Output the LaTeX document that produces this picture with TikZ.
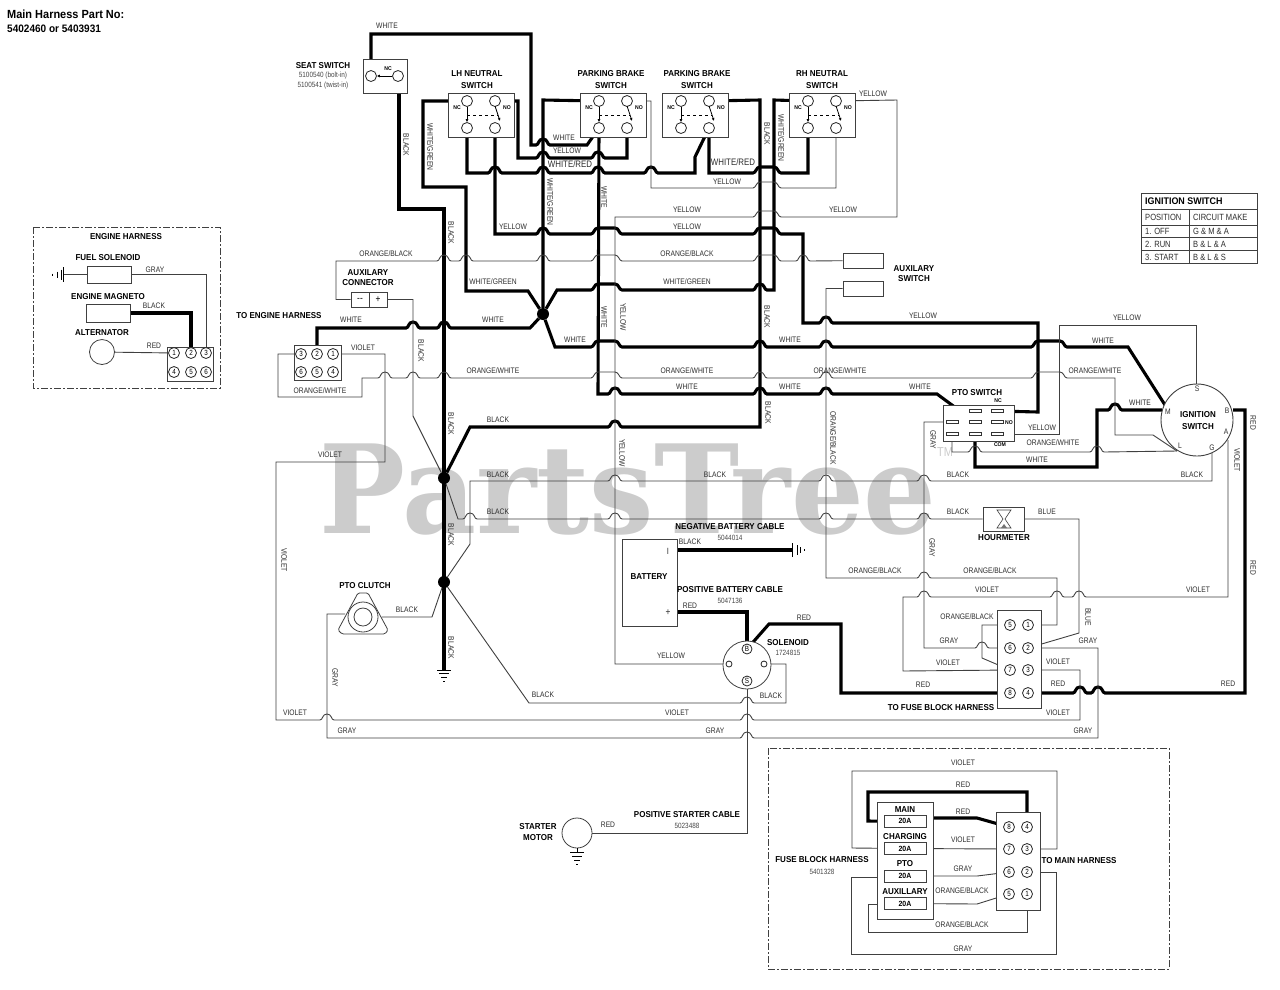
\documentclass[tikz,border=0pt]{standalone}
\usepackage{fontspec}
\usetikzlibrary{arrows.meta,calc}
\newfontfamily\lf[FakeStretch=0.84]{Liberation Sans}
\newfontfamily\lbf[FakeStretch=0.93,UprightFont=* Bold]{Liberation Sans}
\newfontfamily\wmf[FakeStretch=0.93,UprightFont=* Bold]{DejaVu Serif}
\pgfdeclarelayer{wm}\pgfdeclarelayer{wires}\pgfsetlayers{wm,wires,main}
\newcounter{lb}
\newcommand\lab[4][]{\stepcounter{lb}\node[lab,#1] (lab\thelb) at (#2,#3) {#4};}
\newcommand\rl[3]{\stepcounter{lb}\node[lab,rotate=-90] (lab\thelb) at (#1+1.2,#2) {#3};}
\newcommand\bl[4][]{\stepcounter{lb}\node[bold,#1] (lab\thelb) at (#2,#3) {#4};}
\newcommand\hp[2]{-- (#1-7,#2) .. controls (#1-4,#2) and (#1-5,#2-6) .. (#1,#2-6) .. controls (#1+5,#2-6) and (#1+4,#2) .. (#1+7,#2)}
\newcommand\hpp[3]{-- (#1-7,#3) .. controls (#1-4,#3) and (#1-4,#3-6) .. (#1,#3-6) -- (#2,#3-6) .. controls (#2+4,#3-6) and (#2+4,#3) .. (#2+7,#3)}
\tikzset{
 lab/.style={font=\lf\fontsize{8}{9}\selectfont,text=black!82,inner sep=0pt},
 biglab/.style={font=\lf\fontsize{9.4}{10}\selectfont},
 bold/.style={font=\lbf\fontsize{8.6}{10}\selectfont,text=black,inner sep=0pt},
 part/.style={font=\lf\fontsize{7.6}{9}\selectfont,text=black!72,inner sep=0pt},
 term/.style={circle,draw=black!85,fill=white,line width=.8pt,inner sep=0pt,minimum size=11pt,font=\lf\fontsize{7.5}{8}\selectfont},
 wire/.style={line width=.9pt,draw=black!75},
 fat/.style={line width=3.1pt,draw=black},
 box/.style={draw=black!75,fill=white,line width=.9pt,inner sep=0pt},
 dotj/.style={circle,fill=black,inner sep=0pt,minimum size=12pt},
 ptm/.style={draw=black!80,fill=white,line width=.7pt,inner sep=0pt,minimum width=12pt,minimum height=2.4pt},
 dashbox/.style={draw=black!75,line width=.8pt,dash pattern=on 7pt off 2pt on 2pt off 2pt},
 gline/.style={line width=.9pt,draw=black},
 swl/.style={line width=.8pt,draw=black},
 tip/.style={-{Latex[length=3pt,width=3pt]}}
}
% switch with four terminals: name, left edge of its box
\newcommand\switch[2]{%
 \node[box,minimum width=66pt,minimum height=44pt] (#1) at (#2+33,115) {};
 \node[term] (#1tl) at (#2+19,101) {};
 \node[term] (#1tr) at (#2+47,101) {};
 \node[term] (#1bl) at (#2+19,128) {};
 \node[term] (#1br) at (#2+47,128) {};
 \node[font=\lbf\fontsize{5.5}{6}\selectfont,inner sep=0pt] (#1nc) at (#2+9,108) {NC};
 \node[font=\lbf\fontsize{5.5}{6}\selectfont,inner sep=0pt] (#1no) at (#2+59,108) {NO};
 \draw[swl,tip] (#1tl) -- (#1bl.north);
 \draw[swl,tip] (#1tr) ++(0,5) -- (#2+52,121);
 \draw[swl,dashed] (#2+19,115) -- (#2+50,115);
}
\begin{document}
\begin{tikzpicture}[x=1pt,y=-1pt]
\useasboundingbox (0,0) rectangle (1280,989);
\begin{pgfonlayer}{wm}
\fill[white] (0,0) rectangle (1280,989);
\node[font=\wmf\fontsize{123}{123}\selectfont,text=black!20,inner sep=0pt,anchor=base] (wmark) at (628,533) {PartsTree};
\node[font=\lf\fontsize{13}{13}\selectfont,text=black!20,inner sep=0pt] (wmtm) at (945,452) {TM};
\end{pgfonlayer}

% ---------- top-left title
\node[font=\lbf\fontsize{11.8}{12}\selectfont,anchor=west,inner sep=0pt] (ttl1) at (7,14) {Main Harness Part No:};
\node[font=\lbf\fontsize{10.8}{12}\selectfont,anchor=west,inner sep=0pt] (ttl2) at (7,29) {5402460 or 5403931};

% ---------- switches
\node[box,minimum width=44pt,minimum height=34pt] (seat) at (385,76) {};
\node[term] (seatl) at (371,76) {};
\node[term] (seatr) at (398,76) {};
\draw[swl,tip] (seatr) -- (seatl.east);
\node[font=\lbf\fontsize{5.5}{6}\selectfont,inner sep=0pt] (seatnc) at (388,69) {NC};
\switch{lh}{448}
\switch{pa}{580}
\switch{pb}{662}
\switch{rh}{789}

% ---------- engine connector
\node[box,minimum width=47pt,minimum height=35pt] (econ) at (317.5,362.5) {};
\foreach \n/\x/\y/\t in {ea/301/354/3,eb/317/354/2,ec/333/354/1,ed/301/372/6,ee/317/372/5,ef/333/372/4}
  \node[term] (\n) at (\x,\y) {\t};

% ---------- aux connector and switch
\node[box,minimum width=18pt,minimum height=15pt,font=\lf\fontsize{10}{10}\selectfont] (auxm) at (360,299.5) {--};
\node[box,minimum width=18pt,minimum height=15pt,font=\lf\fontsize{10}{10}\selectfont] (auxp) at (378,299.5) {+};
\node[box,minimum width=40pt,minimum height=15pt] (asw1) at (863,260.5) {};
\node[box,minimum width=40pt,minimum height=15pt] (asw2) at (863,288.5) {};

% ---------- PTO switch
\node[box,minimum width=71pt,minimum height=36pt] (pto) at (978.5,423) {};
\foreach \n/\x/\y in {pc/975/411,pd/997/411,pe/952/422,pf/975/422,pg/997/422,ph/952/434,pi/975/434,pj/997/434}
  \node[ptm] (\n) at (\x,\y) {};

% ---------- ignition
\node[circle,draw=black!75,fill=white,line width=.9pt,minimum size=72pt,inner sep=0pt] (ign) at (1197,420) {};
\coordinate (ignM) at (1165,405);
\coordinate (ignM2) at (1162,410);
\coordinate (ignB) at (1233,410);
\coordinate (ignA) at (1228,440);
\coordinate (ignS) at (1196,384);
\coordinate (ignL) at (1177,451);
\coordinate (ignG) at (1212,453);

% ---------- hourmeter
\node[box,minimum width=41pt,minimum height=24pt] (hour) at (1003.5,519) {};
\draw[line width=.6pt,draw=black!75] (997,510) -- (1011,510) -- (1005,519) -- (1011,528) -- (997,528) -- (1003,519) -- cycle;
\fill[black!55] (1001,528) -- (1004,524) -- (1007,528) -- cycle;

% ---------- main connector
\node[box,minimum width=44pt,minimum height=98pt] (mcon) at (1019,659) {};
\foreach \n/\x/\y/\t in {ma/1010/625/5,mb/1028/625/1,mc/1010/648/6,md/1028/648/2,me/1010/670/7,mf/1028/670/3,mg/1010/693/8,mh/1028/693/4}
  \node[term] (\n) at (\x,\y) {\t};

% ---------- battery, solenoid
\node[draw=black!75,fill=white,line width=.8pt,minimum width=55pt,minimum height=87pt,inner sep=0pt] (bat) at (649.5,582.5) {};
\coordinate (batN) at (677,550);
\coordinate (batP) at (677,612);
\node[circle,draw=black!75,fill=white,line width=.8pt,minimum size=48pt,inner sep=0pt] (sol) at (747,665) {};
\node[term,minimum size=10pt] (solB) at (747,649) {B};
\node[term,minimum size=10pt] (solS) at (747,681) {S};
\node[term,minimum size=6pt] (solL) at (729,664) {};
\node[term,minimum size=6pt] (solR) at (764,664) {};

% ---------- PTO clutch
\draw[line width=.8pt,draw=black!75,fill=white,rounded corners=1.5pt] (358,593) -- (368,593) -- (388,630) -- (385,634) -- (342,634) -- (338,630) -- cycle;
\node[circle,draw=black!75,line width=.8pt,minimum size=30pt,inner sep=0pt] (clo) at (363,617) {};
\node[circle,draw=black!75,line width=.8pt,minimum size=18pt,inner sep=0pt] (cli) at (363,617) {};
\coordinate (cle) at (382,617);
\coordinate (clw) at (345,614);

% ---------- starter
\node[circle,draw=black!75,fill=white,line width=.8pt,minimum size=30pt,inner sep=0pt] (start) at (577,833) {};

% ---------- junctions
\node[dotj] (J1) at (543,314) {};
\node[dotj] (J2) at (444,478) {};
\node[dotj] (J3) at (444,582) {};

% ---------- engine harness
\draw[dashbox] (33,227) rectangle (220,388);
\node[box,minimum width=44pt,minimum height=17pt] (fsol) at (109,274.5) {};
\node[box,minimum width=44pt,minimum height=18pt] (emag) at (108,313) {};
\node[circle,draw=black!75,fill=white,line width=.8pt,minimum size=25pt,inner sep=0pt] (alt) at (102,352) {};
\node[box,minimum width=46pt,minimum height=34pt] (ecn2) at (190,364) {};
\foreach \n/\x/\y/\t in {ka/174/353/1,kb/191/353/2,kc/206/353/3,kd/174/372/4,ke/191/372/5,kf/206/372/6}
  \node[term] (\n) at (\x,\y) {\t};

% ---------- fuse block
\draw[dashbox] (768,748) rectangle (1169,969);
\node[box,minimum width=56pt,minimum height=117pt] (fb) at (905,860.5) {};
\node[box,minimum width=42pt,minimum height=12pt,font=\lbf\fontsize{7.5}{8}\selectfont] (fu1) at (905,821) {20A};
\node[box,minimum width=42pt,minimum height=12pt,font=\lbf\fontsize{7.5}{8}\selectfont] (fu2) at (905,848.5) {20A};
\node[box,minimum width=42pt,minimum height=12pt,font=\lbf\fontsize{7.5}{8}\selectfont] (fu3) at (905,876) {20A};
\node[box,minimum width=42pt,minimum height=12pt,font=\lbf\fontsize{7.5}{8}\selectfont] (fu4) at (905,903.5) {20A};
\node[box,minimum width=44pt,minimum height=98pt] (fcon) at (1018,861) {};
\foreach \n/\x/\y/\t in {fa/1009/827/8,fb4/1027/827/4,fc/1009/849/7,fd/1027/849/3,fe/1009/872/6,ff/1027/872/2,fg/1009/894/5,fh/1027/894/1}
  \node[term] (\n) at (\x,\y) {\t};

% ---------- wires
\begin{pgfonlayer}{wires}
% fat black / coloured wires
\draw[fat] (seatl) -- (371,34) -- (531,34) -- (531,145) \hp{543}{145} -- (587,145) -- (pabl);
\draw[fat] (lhtr) -- (518,101) -- (518,158) \hp{543}{158} \hp{598}{158} -- (627,158) -- (pabr);
\draw[fat] (lhbl) -- (467,173) \hp{495}{173} \hp{543}{173} \hp{598}{173} \hp{651}{173} -- (695,173) -- (695,157) -- (pbbr);
\draw[fat] (pbbr) -- (709,173) \hpp{760}{774}{173} -- (808,173) -- (rhbl);
\draw[fat] (lhbr) -- (495,234) \hp{543}{234} \hpp{598}{615}{234} \hpp{760}{774}{234} -- (803,234) -- (803,323) \hp{826}{323} -- (1038,323) -- (1038,412) -- (pd);
\draw[fat] (lhtl) -- (423,101) -- (423,187) -- (466,187) -- (466,291) -- (528,291) -- (J1);
\draw[fat] (patl) -- (543,100) -- (J1);
\draw[fat] (J1) -- (557,290) \hpp{598}{615}{290} \hp{760}{290} -- (774,290) -- (774,100) -- (rhtl);
\draw[fat] (J1) -- (555,347) \hpp{598}{615}{347} \hp{760}{347} \hp{826}{347} \hpp{1038}{1060}{347} -- (1128,347) -- (ignM);
\draw[fat] (eb) -- (317,328) \hp{413}{328} \hp{444}{328} -- (530,328) -- (J1);
\draw[fat] (J2) -- (470,427) \hp{615}{427} -- (760,427) -- (760,100) -- (pbtr);
\draw[fat] (pabl) -- (598,394) \hp{615}{394} \hp{760}{394} \hp{826}{394} -- (937,394) -- (pf);
\draw[fat] (pi) -- (975,467) -- (1097,467) -- (1097,410) \hp{1115}{410} -- (ignM2);
\draw[fat] (mh) \hp{1080}{693} \hp{1098}{693} -- (1245,693) -- (1245,410) -- (ignB);
\draw[fat] (mg) -- (841,693) -- (841,624) -- (769,624) -- (solB);
\draw[fat] (batP) -- (747,612) -- (solB);
\draw[fat] (batN) -- (792,550);
\draw[fat] (seat) ++(14,0) -- (399,209) -- (444,209) -- (444,670);
% thin wires
\draw[wire] (solL) -- (615,664) -- (615,217) \hpp{760}{774}{217} -- (897,217) -- (897,100) -- (rhtr);
\draw[wire] (patr) -- (651,101) -- (651,188) \hpp{760}{774}{188} -- (836,188) -- (rhbr);
\draw[wire] (auxm) -- (336,299.5) -- (336,261) \hp{444}{261} \hp{466}{261} \hp{543}{261} \hpp{598}{615}{261} \hpp{760}{774}{261} \hp{803}{261} -- (asw1);
\draw[wire] (auxp) -- (413,299.5) -- (413,416) -- (J2);
\draw[wire] (asw2) -- (826,288.5) -- (826,578) \hp{924}{578} -- (1057,578) -- (1057,625) -- (mb);
\draw[wire] (ea) -- (278,354) -- (278,397) -- (362,397) -- (362,378) \hp{385}{378} \hp{413}{378} \hp{444}{378} \hpp{598}{615}{378} \hp{760}{378} \hp{826}{378} \hpp{1038}{1060}{378} -- (1115,378) -- (1115,435) -- (1153,435) -- (ignL);
\draw[wire] (ph) -- (952,452) \hp{975}{452} \hp{1097}{452} -- (ignL);
\draw[wire] (ec) -- (385,354) -- (385,462) -- (276,462) -- (276,720) \hp{327}{720} \hp{747}{720} -- (1080,720) -- (1080,670) -- (mf);
\draw[wire] (clw) -- (327,614) -- (327,738) \hp{747}{738} -- (1098,738) -- (1098,648) -- (md);
\draw[wire] (J3) -- (470,544) -- (470,481) \hp{615}{481} \hp{826}{481} \hp{924}{481} -- (1212,481) -- (ignG);
\draw[wire] (J2) -- (458,519) \hp{470}{519} \hp{615}{519} \hp{826}{519} \hp{924}{519} -- (hour);
\draw[wire] (hour) -- (1079,519) -- (1079,633) -- (md);
\draw[wire] (pe) -- (924,422) -- (924,648) \hp{982}{648} -- (mc);
\draw[wire] (me) -- (903,671) -- (903,597) \hp{924}{597} \hp{1057}{597} \hp{1079}{597} -- (1228,597) -- (ignA);
\draw[wire] (ma) -- (982,625) -- (982,658) -- (me);
\draw[wire] (pj) -- (1059,434) -- (1059,325) -- (1196,325) -- (ignS);
\draw[wire] (cle) -- (432,617) -- (J3);
\draw[wire] (J3) -- (529,703) \hp{747}{703} -- (786,703) -- (786,664) -- (solR);
\draw[wire] (solS) -- (747,833) -- (start);
% engine harness wires
\draw[wire] (fsol) -- (63,274.5);
\draw[wire] (fsol) -- (206,274.5) -- (kc);
\draw[fat] (emag) -- (191,313) -- (kb);
\draw[wire] (alt) -- (ka);
% fuse block wires
\draw[wire] (fb) ++(0,-12) -- (852,848) -- (852,771) -- (1057,771) -- (1057,849) -- (fd);
\draw[fat] (fb) ++(0,-39) -- (868,821) -- (868,792) -- (1027,792) -- (fb4);
\draw[fat] (fu1) ++(0,-3) -- (977,818) -- (fa);
\draw[wire] (fu2) -- (fc);
\draw[wire] (fu3) -- (977,876) -- (fe);
\draw[wire] (fu4) -- (977,904) -- (fg);
\draw[wire] (fh) -- (1027,932) -- (868,932) -- (868,904) -- (fb.west |- 868,904);
\draw[wire] (ff) -- (1056,872) -- (1056,954) -- (851,954) -- (851,877) -- (fb.west |- 851,877);
\end{pgfonlayer}

% grounds
\foreach \y/\w in {670/7,673/5,677/3,681/1} \draw[gline] (444-\w,\y) -- (444+\w,\y);
\foreach \x/\w in {792/7,797/5,800/3,804/1} \draw[gline] (\x,550-\w) -- (\x,550+\w);
\foreach \x/\w in {63/7.5,61/5,57/3,52/1} \draw[gline] (\x,274.5-\w) -- (\x,274.5+\w);
\draw[gline] (577,848) -- (577,852);
\foreach \y/\w in {852/7,856/5,860/3,864/1} \draw[gline] (577-\w,\y) -- (577+\w,\y);

% ignition table
\draw[line width=1pt,draw=black!75] (1141,193) rectangle (1257,263);
\draw[line width=.8pt,draw=black!75] (1141,209) -- (1257,209) (1141,225) -- (1257,225) (1141,237) -- (1257,237) (1141,250) -- (1257,250) (1189,209) -- (1189,263);
\bl[font=\lbf\fontsize{9.6}{11}\selectfont,anchor=west]{1145}{201}{IGNITION SWITCH}
\lab[anchor=west,font=\lf\fontsize{9}{10}\selectfont]{1145}{217}{POSITION}
\lab[anchor=west,font=\lf\fontsize{9}{10}\selectfont]{1193}{217}{CIRCUIT MAKE}
\lab[anchor=west,font=\lf\fontsize{9}{10}\selectfont]{1145}{231}{1. OFF}
\lab[anchor=west,font=\lf\fontsize{9}{10}\selectfont]{1193}{231}{G \& M \& A}
\lab[anchor=west,font=\lf\fontsize{9}{10}\selectfont]{1145}{244}{2. RUN}
\lab[anchor=west,font=\lf\fontsize{9}{10}\selectfont]{1193}{244}{B \& L \& A}
\lab[anchor=west,font=\lf\fontsize{9}{10}\selectfont]{1145}{257}{3. START}
\lab[anchor=west,font=\lf\fontsize{9}{10}\selectfont]{1193}{257}{B \& L \& S}

% bold captions
\bl{323}{66}{SEAT SWITCH}
\lab[part]{323}{75.5}{5100540 (bolt-in)}
\lab[part]{323}{85.5}{5100541 (twist-in)}
\bl{477}{74}{LH NEUTRAL}\bl{477}{86}{SWITCH}
\bl{611}{74}{PARKING BRAKE}\bl{611}{86}{SWITCH}
\bl{697}{74}{PARKING BRAKE}\bl{697}{86}{SWITCH}
\bl{822}{74}{RH NEUTRAL}\bl{822}{86}{SWITCH}
\bl{368}{273}{AUXILARY}\bl{368}{283}{CONNECTOR}
\bl{914}{269}{AUXILARY}\bl{914}{279}{SWITCH}
\bl{279}{316}{TO ENGINE HARNESS}
\bl{126}{237}{ENGINE HARNESS}
\bl{108}{258}{FUEL SOLENOID}
\bl{108}{297}{ENGINE MAGNETO}
\bl{102}{333}{ALTERNATOR}
\bl{977}{393}{PTO SWITCH}
\node[font=\lbf\fontsize{5.5}{6}\selectfont,inner sep=0pt] (ptnc) at (998,401) {NC};
\node[font=\lbf\fontsize{5.5}{6}\selectfont,inner sep=0pt] (ptno) at (1009,423) {NO};
\node[font=\lbf\fontsize{5.5}{6}\selectfont,inner sep=0pt] (ptcom) at (1000,445) {COM};
\bl{1198}{415}{IGNITION}\bl{1198}{427}{SWITCH}
\foreach \t/\x/\y in {S/1197/389,M/1168/412,B/1227/411,A/1226/432,L/1180/446,G/1212/448}
  \node[lab] (ig\t) at (\x,\y) {\t};
\bl{1004}{538}{HOURMETER}
\bl{365}{586}{PTO CLUTCH}
\bl{730}{527}{NEGATIVE BATTERY CABLE}
\lab[part]{730}{537.5}{5044014}
\bl{649}{577}{BATTERY}
\node[lab,font=\lf\fontsize{9}{9}\selectfont] (batmi) at (668,551) {I};
\node[lab,font=\lf\fontsize{10}{10}\selectfont] (batpl) at (668,613) {+};
\bl{730}{590}{POSITIVE BATTERY CABLE}
\lab[part]{730}{600.5}{5047136}
\bl{788}{643}{SOLENOID}
\lab[part]{788}{653}{1724815}
\bl{941}{708}{TO FUSE BLOCK HARNESS}
\bl{687}{815}{POSITIVE STARTER CABLE}
\lab[part]{687}{825.5}{5023488}
\bl{538}{827}{STARTER}\bl{538}{838}{MOTOR}
\bl{822}{860}{FUSE BLOCK HARNESS}
\lab[part]{822}{872}{5401328}
\bl{1079}{861}{TO MAIN HARNESS}
\bl{905}{810}{MAIN}\bl{905}{837}{CHARGING}\bl{905}{864}{PTO}\bl{905}{892}{AUXILLARY}

% horizontal wire labels
\lab{387}{26}{WHITE}\lab{564}{138}{WHITE}\lab{567}{151}{YELLOW}\lab[biglab]{570}{164}{WHITE/RED}
\lab[biglab]{733}{162}{WHITE/RED}\lab{727}{182}{YELLOW}\lab{873}{94}{YELLOW}\lab{513}{227}{YELLOW}
\lab{687}{210}{YELLOW}\lab{843}{210}{YELLOW}\lab{687}{227}{YELLOW}
\lab{386}{254}{ORANGE/BLACK}\lab{687}{254}{ORANGE/BLACK}
\lab{493}{282}{WHITE/GREEN}\lab{687}{282}{WHITE/GREEN}
\lab{351}{320}{WHITE}\lab{493}{320}{WHITE}\lab{575}{340}{WHITE}\lab{790}{340}{WHITE}
\lab{923}{316}{YELLOW}\lab{1127}{318}{YELLOW}\lab{1103}{341}{WHITE}\lab{1140}{403}{WHITE}
\lab{363}{348}{VIOLET}\lab{320}{391}{ORANGE/WHITE}\lab{493}{371}{ORANGE/WHITE}
\lab{687}{371}{ORANGE/WHITE}\lab{840}{371}{ORANGE/WHITE}\lab{1095}{371}{ORANGE/WHITE}
\lab{687}{387}{WHITE}\lab{790}{387}{WHITE}\lab{920}{387}{WHITE}
\lab{1042}{428}{YELLOW}\lab{1053}{443}{ORANGE/WHITE}\lab{1037}{460}{WHITE}
\lab{498}{420}{BLACK}\lab{330}{455}{VIOLET}
\lab{498}{475}{BLACK}\lab{715}{475}{BLACK}\lab{958}{475}{BLACK}\lab{1192}{475}{BLACK}
\lab{498}{512}{BLACK}\lab{958}{512}{BLACK}\lab{1047}{512}{BLUE}
\lab{690}{542}{BLACK}\lab{690}{606}{RED}\lab{804}{618}{RED}
\lab{875}{571}{ORANGE/BLACK}\lab{990}{571}{ORANGE/BLACK}\lab{987}{590}{VIOLET}\lab{1198}{590}{VIOLET}
\lab{967}{617}{ORANGE/BLACK}\lab{949}{641}{GRAY}\lab{1088}{641}{GRAY}
\lab{948}{663}{VIOLET}\lab{1058}{662}{VIOLET}\lab{923}{685}{RED}\lab{1058}{684}{RED}\lab{1228}{684}{RED}
\lab{407}{610}{BLACK}\lab{671}{656}{YELLOW}\lab{771}{696}{BLACK}\lab{543}{695}{BLACK}
\lab{295}{713}{VIOLET}\lab{677}{713}{VIOLET}\lab{1058}{713}{VIOLET}
\lab{347}{731}{GRAY}\lab{715}{731}{GRAY}\lab{1083}{731}{GRAY}
\lab{608}{825}{RED}
\lab{963}{763}{VIOLET}\lab{963}{785}{RED}\lab{963}{812}{RED}\lab{963}{840}{VIOLET}
\lab{963}{869}{GRAY}\lab{962}{891}{ORANGE/BLACK}\lab{962}{925}{ORANGE/BLACK}\lab{963}{949}{GRAY}
\lab{155}{270}{GRAY}\lab{154}{306}{BLACK}\lab{154}{346}{RED}

% rotated wire labels
\rl{405}{145}{BLACK}\rl{429}{147}{WHITE/GREEN}\rl{450}{233}{BLACK}\rl{549}{202}{WHITE/GREEN}
\rl{603}{197}{WHITE}\rl{766}{134}{BLACK}\rl{780}{138}{WHITE/GREEN}
\rl{603}{317}{WHITE}\rl{622}{317}{YELLOW}\rl{766}{317}{BLACK}\rl{420}{351}{BLACK}
\rl{450}{424}{BLACK}\rl{450}{535}{BLACK}\rl{450}{648}{BLACK}
\rl{283}{560}{VIOLET}\rl{334}{678}{GRAY}\rl{621}{453}{YELLOW}\rl{832}{438}{ORANGE/BLACK}
\rl{767}{413}{BLACK}\rl{932}{440}{GRAY}\rl{931}{548}{GRAY}\rl{1087}{617}{BLUE}
\rl{1252}{423}{RED}\rl{1252}{568}{RED}\rl{1236}{460}{VIOLET}
\end{tikzpicture}
\end{document}
